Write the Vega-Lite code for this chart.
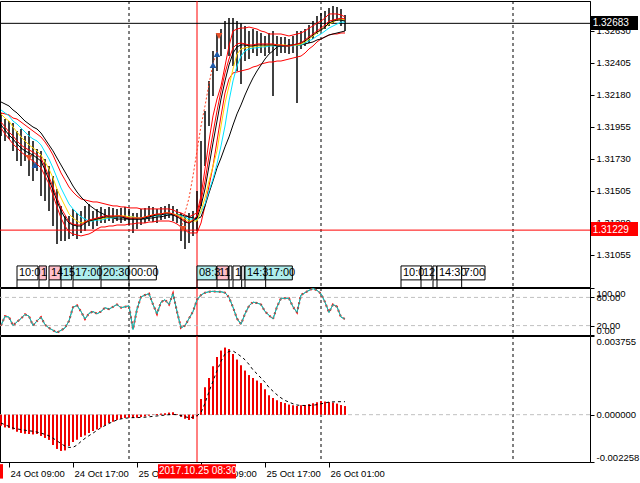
{
"$schema": "https://vega.github.io/schema/vega-lite/v6.json",
"padding": {"left": -4, "top": 0, "right": 0, "bottom": 0},
"background": "#FFFFFF",
"bounds": "flush",
"spacing": 1,
"config": {
 "view": {"stroke": "#000000", "strokeWidth": 1},
 "axis": {"labelFont": "Liberation Sans", "labelFontSize": 9.5, "labelColor": "#000000", "domainColor": "#000000", "tickColor": "#000000", "tickSize": 4, "labelPadding": 2, "grid": false},
 "text": {"font": "Liberation Sans", "fontSize": 10}
},
"datasets": {
 "bars": [
{"t":"2017-10-24T08:00Z","o":1.32010,"h":1.32053,"l":1.31891,"c":1.31982,"r":1.31989,"k":1.31968,"ye":1.32046,"cy":1.32074,"ks":1.32130,"bu":1.32053,"bl":1.31947,"rsi":20,"m":-0.00052,"s":-0.00040},
{"t":"2017-10-24T08:30Z","o":1.31982,"h":1.32010,"l":1.31856,"c":1.31940,"r":1.31954,"k":1.31933,"ye":1.32017,"cy":1.32053,"ks":1.32116,"bu":1.32046,"bl":1.31905,"rsi":40,"m":-0.00060,"s":-0.00048},
{"t":"2017-10-24T09:00Z","o":1.31940,"h":1.31996,"l":1.31870,"c":1.31954,"r":1.31919,"k":1.31898,"ye":1.31996,"cy":1.32032,"ks":1.32102,"bu":1.32039,"bl":1.31870,"rsi":38,"m":-0.00062,"s":-0.00056},
{"t":"2017-10-24T09:30Z","o":1.31954,"h":1.31982,"l":1.31786,"c":1.31891,"r":1.31891,"k":1.31870,"ye":1.31954,"cy":1.31996,"ks":1.32074,"bu":1.32017,"bl":1.31835,"rsi":20,"m":-0.00070,"s":-0.00064},
{"t":"2017-10-24T10:00Z","o":1.31891,"h":1.31926,"l":1.31715,"c":1.31856,"r":1.31856,"k":1.31835,"ye":1.31919,"cy":1.31975,"ks":1.32053,"bu":1.32010,"bl":1.31807,"rsi":28,"m":-0.00080,"s":-0.00068},
{"t":"2017-10-24T10:30Z","o":1.31856,"h":1.31940,"l":1.31680,"c":1.31870,"r":1.31828,"k":1.31807,"ye":1.31884,"cy":1.31947,"ks":1.32024,"bu":1.31989,"bl":1.31778,"rsi":35,"m":-0.00086,"s":-0.00071},
{"t":"2017-10-24T11:00Z","o":1.31870,"h":1.31891,"l":1.31715,"c":1.31800,"r":1.31807,"k":1.31786,"ye":1.31856,"cy":1.31919,"ks":1.31996,"bu":1.31968,"bl":1.31757,"rsi":44,"m":-0.00090,"s":-0.00074},
{"t":"2017-10-24T11:30Z","o":1.31800,"h":1.31926,"l":1.31610,"c":1.31821,"r":1.31793,"k":1.31771,"ye":1.31828,"cy":1.31891,"ks":1.31975,"bu":1.31947,"bl":1.31736,"rsi":40,"m":-0.00092,"s":-0.00077},
{"t":"2017-10-24T12:00Z","o":1.31821,"h":1.31856,"l":1.31575,"c":1.31771,"r":1.31778,"k":1.31757,"ye":1.31807,"cy":1.31870,"ks":1.31954,"bu":1.31926,"bl":1.31715,"rsi":20,"m":-0.00093,"s":-0.00079},
{"t":"2017-10-24T12:30Z","o":1.31771,"h":1.31800,"l":1.31645,"c":1.31729,"r":1.31757,"k":1.31736,"ye":1.31786,"cy":1.31856,"ks":1.31940,"bu":1.31905,"bl":1.31694,"rsi":30,"m":-0.00092,"s":-0.00083},
{"t":"2017-10-24T13:00Z","o":1.31729,"h":1.31786,"l":1.31469,"c":1.31680,"r":1.31736,"k":1.31715,"ye":1.31757,"cy":1.31828,"ks":1.31912,"bu":1.31884,"bl":1.31666,"rsi":38,"m":-0.00100,"s":-0.00088},
{"t":"2017-10-24T13:30Z","o":1.31680,"h":1.31729,"l":1.31434,"c":1.31645,"r":1.31673,"k":1.31652,"ye":1.31708,"cy":1.31778,"ks":1.31870,"bu":1.31849,"bl":1.31610,"rsi":22,"m":-0.00110,"s":-0.00094},
{"t":"2017-10-24T14:00Z","o":1.31645,"h":1.31680,"l":1.31364,"c":1.31561,"r":1.31603,"k":1.31582,"ye":1.31659,"cy":1.31729,"ks":1.31828,"bu":1.31807,"bl":1.31554,"rsi":15,"m":-0.00120,"s":-0.00101},
{"t":"2017-10-24T14:30Z","o":1.31561,"h":1.31610,"l":1.31258,"c":1.31469,"r":1.31532,"k":1.31511,"ye":1.31596,"cy":1.31666,"ks":1.31786,"bu":1.31757,"bl":1.31476,"rsi":10,"m":-0.00145,"s":-0.00112},
{"t":"2017-10-24T15:00Z","o":1.31469,"h":1.31518,"l":1.31132,"c":1.31329,"r":1.31455,"k":1.31434,"ye":1.31518,"cy":1.31596,"ks":1.31736,"bu":1.31694,"bl":1.31392,"rsi":5,"m":-0.00162,"s":-0.00125},
{"t":"2017-10-24T15:30Z","o":1.31329,"h":1.31399,"l":1.31153,"c":1.31237,"r":1.31385,"k":1.31364,"ye":1.31455,"cy":1.31525,"ks":1.31687,"bu":1.31631,"bl":1.31314,"rsi":10,"m":-0.00172,"s":-0.00138},
{"t":"2017-10-24T16:00Z","o":1.31237,"h":1.31329,"l":1.31153,"c":1.31209,"r":1.31336,"k":1.31314,"ye":1.31399,"cy":1.31469,"ks":1.31638,"bu":1.31582,"bl":1.31258,"rsi":15,"m":-0.00170,"s":-0.00150},
{"t":"2017-10-24T16:30Z","o":1.31209,"h":1.31329,"l":1.31167,"c":1.31258,"r":1.31286,"k":1.31279,"ye":1.31343,"cy":1.31413,"ks":1.31589,"bu":1.31532,"bl":1.31216,"rsi":30,"m":-0.00150,"s":-0.00156},
{"t":"2017-10-24T17:00Z","o":1.31258,"h":1.31378,"l":1.31188,"c":1.31279,"r":1.31272,"k":1.31265,"ye":1.31314,"cy":1.31378,"ks":1.31539,"bu":1.31497,"bl":1.31202,"rsi":59,"m":-0.00130,"s":-0.00156},
{"t":"2017-10-24T17:30Z","o":1.31279,"h":1.31350,"l":1.31167,"c":1.31251,"r":1.31265,"k":1.31258,"ye":1.31293,"cy":1.31350,"ks":1.31497,"bu":1.31469,"bl":1.31195,"rsi":63,"m":-0.00118,"s":-0.00145},
{"t":"2017-10-24T18:00Z","o":1.31251,"h":1.31364,"l":1.31209,"c":1.31293,"r":1.31265,"k":1.31258,"ye":1.31279,"cy":1.31322,"ks":1.31462,"bu":1.31448,"bl":1.31188,"rsi":50,"m":-0.00105,"s":-0.00128},
{"t":"2017-10-24T18:30Z","o":1.31293,"h":1.31399,"l":1.31223,"c":1.31307,"r":1.31286,"k":1.31279,"ye":1.31286,"cy":1.31307,"ks":1.31434,"bu":1.31441,"bl":1.31195,"rsi":34,"m":-0.00098,"s":-0.00113},
{"t":"2017-10-24T19:00Z","o":1.31307,"h":1.31413,"l":1.31258,"c":1.31329,"r":1.31300,"k":1.31293,"ye":1.31293,"cy":1.31293,"ks":1.31406,"bu":1.31434,"bl":1.31202,"rsi":46,"m":-0.00088,"s":-0.00100},
{"t":"2017-10-24T19:30Z","o":1.31329,"h":1.31364,"l":1.31237,"c":1.31293,"r":1.31307,"k":1.31300,"ye":1.31300,"cy":1.31293,"ks":1.31385,"bu":1.31427,"bl":1.31216,"rsi":50,"m":-0.00078,"s":-0.00088},
{"t":"2017-10-24T20:00Z","o":1.31293,"h":1.31378,"l":1.31258,"c":1.31322,"r":1.31314,"k":1.31307,"ye":1.31307,"cy":1.31300,"ks":1.31364,"bu":1.31427,"bl":1.31237,"rsi":45,"m":-0.00070,"s":-0.00075},
{"t":"2017-10-24T20:30Z","o":1.31322,"h":1.31392,"l":1.31279,"c":1.31336,"r":1.31322,"k":1.31314,"ye":1.31307,"cy":1.31300,"ks":1.31350,"bu":1.31420,"bl":1.31251,"rsi":50,"m":-0.00060,"s":-0.00062},
{"t":"2017-10-24T21:00Z","o":1.31336,"h":1.31378,"l":1.31279,"c":1.31329,"r":1.31329,"k":1.31322,"ye":1.31314,"cy":1.31307,"ks":1.31336,"bu":1.31413,"bl":1.31251,"rsi":58,"m":-0.00050,"s":-0.00052},
{"t":"2017-10-24T21:30Z","o":1.31329,"h":1.31392,"l":1.31293,"c":1.31343,"r":1.31329,"k":1.31322,"ye":1.31322,"cy":1.31314,"ks":1.31322,"bu":1.31406,"bl":1.31258,"rsi":55,"m":-0.00040,"s":-0.00042},
{"t":"2017-10-24T22:00Z","o":1.31343,"h":1.31385,"l":1.31279,"c":1.31322,"r":1.31329,"k":1.31322,"ye":1.31322,"cy":1.31314,"ks":1.31314,"bu":1.31399,"bl":1.31258,"rsi":60,"m":-0.00032,"s":-0.00033},
{"t":"2017-10-24T22:30Z","o":1.31322,"h":1.31378,"l":1.31293,"c":1.31336,"r":1.31329,"k":1.31322,"ye":1.31329,"cy":1.31322,"ks":1.31307,"bu":1.31399,"bl":1.31265,"rsi":65,"m":-0.00024,"s":-0.00025},
{"t":"2017-10-24T23:00Z","o":1.31336,"h":1.31385,"l":1.31279,"c":1.31329,"r":1.31329,"k":1.31322,"ye":1.31329,"cy":1.31322,"ks":1.31307,"bu":1.31392,"bl":1.31265,"rsi":58,"m":-0.00018,"s":-0.00020},
{"t":"2017-10-24T23:30Z","o":1.31329,"h":1.31392,"l":1.31293,"c":1.31343,"r":1.31322,"k":1.31314,"ye":1.31329,"cy":1.31322,"ks":1.31307,"bu":1.31392,"bl":1.31265,"rsi":60,"m":-0.00015,"s":-0.00017},
{"t":"2017-10-25T00:00Z","o":1.31343,"h":1.31378,"l":1.31265,"c":1.31314,"r":1.31314,"k":1.31307,"ye":1.31322,"cy":1.31322,"ks":1.31307,"bu":1.31385,"bl":1.31272,"rsi":62,"m":-0.00014,"s":-0.00015},
{"t":"2017-10-25T00:30Z","o":1.31314,"h":1.31350,"l":1.31209,"c":1.31279,"r":1.31314,"k":1.31307,"ye":1.31322,"cy":1.31322,"ks":1.31307,"bu":1.31385,"bl":1.31272,"rsi":12,"m":-0.00016,"s":-0.00014},
{"t":"2017-10-25T01:00Z","o":1.31279,"h":1.31350,"l":1.31237,"c":1.31307,"r":1.31314,"k":1.31307,"ye":1.31314,"cy":1.31314,"ks":1.31307,"bu":1.31385,"bl":1.31279,"rsi":55,"m":-0.00014,"s":-0.00014},
{"t":"2017-10-25T01:30Z","o":1.31307,"h":1.31378,"l":1.31265,"c":1.31322,"r":1.31314,"k":1.31307,"ye":1.31314,"cy":1.31314,"ks":1.31307,"bu":1.31378,"bl":1.31279,"rsi":81,"m":-0.00011,"s":-0.00013},
{"t":"2017-10-25T02:00Z","o":1.31322,"h":1.31385,"l":1.31279,"c":1.31336,"r":1.31322,"k":1.31314,"ye":1.31322,"cy":1.31314,"ks":1.31307,"bu":1.31378,"bl":1.31279,"rsi":85,"m":-0.00008,"s":-0.00012},
{"t":"2017-10-25T02:30Z","o":1.31336,"h":1.31399,"l":1.31293,"c":1.31343,"r":1.31329,"k":1.31322,"ye":1.31329,"cy":1.31322,"ks":1.31314,"bu":1.31378,"bl":1.31286,"rsi":88,"m":-0.00004,"s":-0.00010},
{"t":"2017-10-25T03:00Z","o":1.31343,"h":1.31392,"l":1.31286,"c":1.31336,"r":1.31336,"k":1.31329,"ye":1.31336,"cy":1.31329,"ks":1.31314,"bu":1.31378,"bl":1.31286,"rsi":65,"m":-0.00002,"s":-0.00008},
{"t":"2017-10-25T03:30Z","o":1.31336,"h":1.31378,"l":1.31279,"c":1.31329,"r":1.31343,"k":1.31336,"ye":1.31336,"cy":1.31329,"ks":1.31322,"bu":1.31378,"bl":1.31293,"rsi":45,"m":0.00003,"s":-0.00006},
{"t":"2017-10-25T04:00Z","o":1.31329,"h":1.31392,"l":1.31300,"c":1.31350,"r":1.31343,"k":1.31336,"ye":1.31343,"cy":1.31336,"ks":1.31322,"bu":1.31378,"bl":1.31293,"rsi":70,"m":0.00005,"s":-0.00004},
{"t":"2017-10-25T04:30Z","o":1.31350,"h":1.31399,"l":1.31307,"c":1.31357,"r":1.31350,"k":1.31343,"ye":1.31350,"cy":1.31343,"ks":1.31329,"bu":1.31378,"bl":1.31293,"rsi":75,"m":0.00006,"s":-0.00002},
{"t":"2017-10-25T05:00Z","o":1.31357,"h":1.31413,"l":1.31314,"c":1.31364,"r":1.31350,"k":1.31343,"ye":1.31350,"cy":1.31343,"ks":1.31336,"bu":1.31378,"bl":1.31293,"rsi":65,"m":0.00009,"s":0.00000},
{"t":"2017-10-25T05:30Z","o":1.31364,"h":1.31399,"l":1.31293,"c":1.31343,"r":1.31343,"k":1.31336,"ye":1.31343,"cy":1.31343,"ks":1.31336,"bu":1.31371,"bl":1.31286,"rsi":88,"m":0.00011,"s":0.00001},
{"t":"2017-10-25T06:00Z","o":1.31343,"h":1.31378,"l":1.31279,"c":1.31329,"r":1.31329,"k":1.31322,"ye":1.31336,"cy":1.31336,"ks":1.31336,"bu":1.31357,"bl":1.31272,"rsi":50,"m":0.00002,"s":0.00000},
{"t":"2017-10-25T06:30Z","o":1.31329,"h":1.31350,"l":1.31153,"c":1.31279,"r":1.31314,"k":1.31307,"ye":1.31322,"cy":1.31329,"ks":1.31336,"bu":1.31350,"bl":1.31251,"rsi":15,"m":-0.00010,"s":-0.00004,"sar":1.31237},
{"t":"2017-10-25T07:00Z","o":1.31279,"h":1.31329,"l":1.31097,"c":1.31237,"r":1.31293,"k":1.31286,"ye":1.31307,"cy":1.31322,"ks":1.31329,"bu":1.31336,"bl":1.31230,"rsi":20,"m":-0.00018,"s":-0.00010,"sar":1.31350},
{"t":"2017-10-25T07:30Z","o":1.31237,"h":1.31350,"l":1.31139,"c":1.31258,"r":1.31279,"k":1.31279,"ye":1.31293,"cy":1.31307,"ks":1.31322,"bu":1.31322,"bl":1.31209,"rsi":35,"m":-0.00024,"s":-0.00014,"sar":1.31455},
{"t":"2017-10-25T08:00Z","o":1.31258,"h":1.31364,"l":1.31188,"c":1.31279,"r":1.31300,"k":1.31293,"ye":1.31293,"cy":1.31307,"ks":1.31314,"bu":1.31336,"bl":1.31209,"rsi":50,"m":-0.00020,"s":-0.00012,"sar":1.31610},
{"t":"2017-10-25T08:30Z","o":1.31279,"h":1.31504,"l":1.31223,"c":1.31434,"r":1.31329,"k":1.31314,"ye":1.31293,"cy":1.31300,"ks":1.31307,"bu":1.31350,"bl":1.31209,"rsi":75,"m":-0.00008,"s":-0.00005,"sar":1.31786},
{"t":"2017-10-25T09:00Z","o":1.31434,"h":1.31856,"l":1.31399,"c":1.31715,"r":1.31434,"k":1.31399,"ye":1.31364,"cy":1.31357,"ks":1.31322,"bu":1.31469,"bl":1.31279,"rsi":85,"m":0.00075,"s":0.00010,"sar":1.31961},
{"t":"2017-10-25T09:30Z","o":1.31715,"h":1.32067,"l":1.31680,"c":1.31996,"r":1.31575,"k":1.31518,"ye":1.31455,"cy":1.31413,"ks":1.31399,"bu":1.31659,"bl":1.31399,"rsi":90,"m":0.00130,"s":0.00055,"sar":1.32102},
{"t":"2017-10-25T10:00Z","o":1.31996,"h":1.32278,"l":1.31961,"c":1.32207,"r":1.31750,"k":1.31680,"ye":1.31575,"cy":1.31504,"ks":1.31490,"bu":1.31856,"bl":1.31539,"rsi":92,"m":0.00175,"s":0.00110,"sar":1.32257},
{"t":"2017-10-25T10:30Z","o":1.32207,"h":1.32489,"l":1.32172,"c":1.32418,"r":1.31912,"k":1.31842,"ye":1.31680,"cy":1.31589,"ks":1.31575,"bu":1.32032,"bl":1.31680,"rsi":93,"m":0.00230,"s":0.00160,"sar":1.32397},
{"t":"2017-10-25T11:00Z","o":1.32418,"h":1.32608,"l":1.32348,"c":1.32524,"r":1.32067,"k":1.31996,"ye":1.31786,"cy":1.31694,"ks":1.31666,"bu":1.32151,"bl":1.31856,"rsi":92,"m":0.00275,"s":0.00210,"sar":1.32489},
{"t":"2017-10-25T11:30Z","o":1.32524,"h":1.32643,"l":1.32453,"c":1.32573,"r":1.32207,"k":1.32151,"ye":1.31961,"cy":1.31821,"ks":1.31736,"bu":1.32242,"bl":1.32032,"rsi":92,"m":0.00305,"s":0.00255},
{"t":"2017-10-25T12:00Z","o":1.32573,"h":1.32699,"l":1.32503,"c":1.32594,"r":1.32334,"k":1.32278,"ye":1.32123,"cy":1.31961,"ks":1.31814,"bu":1.32383,"bl":1.32193,"rsi":90,"m":0.00320,"s":0.00290},
{"t":"2017-10-25T12:30Z","o":1.32594,"h":1.32720,"l":1.32453,"c":1.32559,"r":1.32432,"k":1.32390,"ye":1.32242,"cy":1.32137,"ks":1.31884,"bu":1.32524,"bl":1.32292,"rsi":80,"m":0.00312,"s":0.00302},
{"t":"2017-10-25T13:00Z","o":1.32559,"h":1.32720,"l":1.32383,"c":1.32629,"r":1.32510,"k":1.32474,"ye":1.32362,"cy":1.32278,"ks":1.31968,"bu":1.32629,"bl":1.32334,"rsi":59,"m":0.00290,"s":0.00304},
{"t":"2017-10-25T13:30Z","o":1.32629,"h":1.32699,"l":1.32348,"c":1.32524,"r":1.32538,"k":1.32517,"ye":1.32467,"cy":1.32383,"ks":1.32046,"bu":1.32643,"bl":1.32341,"rsi":35,"m":0.00262,"s":0.00292},
{"t":"2017-10-25T14:00Z","o":1.32524,"h":1.32685,"l":1.32257,"c":1.32559,"r":1.32545,"k":1.32531,"ye":1.32503,"cy":1.32453,"ks":1.32109,"bu":1.32650,"bl":1.32348,"rsi":23,"m":0.00235,"s":0.00278},
{"t":"2017-10-25T14:30Z","o":1.32559,"h":1.32664,"l":1.32418,"c":1.32489,"r":1.32538,"k":1.32531,"ye":1.32510,"cy":1.32489,"ks":1.32179,"bu":1.32650,"bl":1.32355,"rsi":45,"m":0.00210,"s":0.00262},
{"t":"2017-10-25T15:00Z","o":1.32489,"h":1.32629,"l":1.32432,"c":1.32545,"r":1.32531,"k":1.32524,"ye":1.32517,"cy":1.32503,"ks":1.32242,"bu":1.32657,"bl":1.32362,"rsi":62,"m":0.00188,"s":0.00240},
{"t":"2017-10-25T15:30Z","o":1.32545,"h":1.32643,"l":1.32474,"c":1.32559,"r":1.32531,"k":1.32524,"ye":1.32517,"cy":1.32510,"ks":1.32299,"bu":1.32650,"bl":1.32376,"rsi":70,"m":0.00175,"s":0.00214},
{"t":"2017-10-25T16:00Z","o":1.32559,"h":1.32629,"l":1.32453,"c":1.32524,"r":1.32538,"k":1.32531,"ye":1.32524,"cy":1.32510,"ks":1.32348,"bu":1.32643,"bl":1.32383,"rsi":68,"m":0.00162,"s":0.00195},
{"t":"2017-10-25T16:30Z","o":1.32524,"h":1.32615,"l":1.32474,"c":1.32545,"r":1.32538,"k":1.32531,"ye":1.32524,"cy":1.32517,"ks":1.32390,"bu":1.32629,"bl":1.32397,"rsi":65,"m":0.00150,"s":0.00175},
{"t":"2017-10-25T17:00Z","o":1.32545,"h":1.32594,"l":1.32453,"c":1.32517,"r":1.32538,"k":1.32531,"ye":1.32524,"cy":1.32517,"ks":1.32432,"bu":1.32622,"bl":1.32404,"rsi":50,"m":0.00120,"s":0.00155},
{"t":"2017-10-25T17:30Z","o":1.32517,"h":1.32615,"l":1.32474,"c":1.32559,"r":1.32538,"k":1.32531,"ye":1.32531,"cy":1.32524,"ks":1.32467,"bu":1.32608,"bl":1.32411,"rsi":42,"m":0.00092,"s":0.00130},
{"t":"2017-10-25T18:00Z","o":1.32559,"h":1.32629,"l":1.32172,"c":1.32531,"r":1.32538,"k":1.32531,"ye":1.32531,"cy":1.32524,"ks":1.32489,"bu":1.32608,"bl":1.32411,"rsi":34,"m":0.00080,"s":0.00112},
{"t":"2017-10-25T18:30Z","o":1.32531,"h":1.32594,"l":1.32453,"c":1.32524,"r":1.32531,"k":1.32524,"ye":1.32531,"cy":1.32524,"ks":1.32517,"bu":1.32608,"bl":1.32418,"rsi":60,"m":0.00068,"s":0.00095},
{"t":"2017-10-25T19:00Z","o":1.32524,"h":1.32587,"l":1.32474,"c":1.32517,"r":1.32531,"k":1.32524,"ye":1.32531,"cy":1.32524,"ks":1.32524,"bu":1.32608,"bl":1.32418,"rsi":78,"m":0.00060,"s":0.00080},
{"t":"2017-10-25T19:30Z","o":1.32517,"h":1.32587,"l":1.32474,"c":1.32531,"r":1.32524,"k":1.32524,"ye":1.32531,"cy":1.32524,"ks":1.32524,"bu":1.32601,"bl":1.32425,"rsi":78,"m":0.00054,"s":0.00068},
{"t":"2017-10-25T20:00Z","o":1.32531,"h":1.32573,"l":1.32467,"c":1.32510,"r":1.32524,"k":1.32524,"ye":1.32524,"cy":1.32524,"ks":1.32531,"bu":1.32594,"bl":1.32432,"rsi":78,"m":0.00048,"s":0.00060},
{"t":"2017-10-25T20:30Z","o":1.32510,"h":1.32594,"l":1.32474,"c":1.32538,"r":1.32531,"k":1.32531,"ye":1.32531,"cy":1.32524,"ks":1.32531,"bu":1.32601,"bl":1.32439,"rsi":60,"m":0.00044,"s":0.00052},
{"t":"2017-10-25T21:00Z","o":1.32538,"h":1.32629,"l":1.32123,"c":1.32531,"r":1.32538,"k":1.32538,"ye":1.32531,"cy":1.32531,"ks":1.32531,"bu":1.32608,"bl":1.32446,"rsi":48,"m":0.00042,"s":0.00046},
{"t":"2017-10-25T21:30Z","o":1.32531,"h":1.32629,"l":1.32503,"c":1.32559,"r":1.32545,"k":1.32545,"ye":1.32538,"cy":1.32531,"ks":1.32531,"bu":1.32615,"bl":1.32453,"rsi":85,"m":0.00044,"s":0.00044},
{"t":"2017-10-25T22:00Z","o":1.32559,"h":1.32643,"l":1.32524,"c":1.32587,"r":1.32566,"k":1.32559,"ye":1.32552,"cy":1.32545,"ks":1.32538,"bu":1.32629,"bl":1.32474,"rsi":90,"m":0.00046,"s":0.00044},
{"t":"2017-10-25T22:30Z","o":1.32587,"h":1.32671,"l":1.32545,"c":1.32608,"r":1.32587,"k":1.32580,"ye":1.32573,"cy":1.32559,"ks":1.32545,"bu":1.32650,"bl":1.32503,"rsi":95,"m":0.00050,"s":0.00044},
{"t":"2017-10-25T23:00Z","o":1.32608,"h":1.32699,"l":1.32573,"c":1.32643,"r":1.32608,"k":1.32601,"ye":1.32594,"cy":1.32573,"ks":1.32552,"bu":1.32664,"bl":1.32524,"rsi":99,"m":0.00053,"s":0.00045},
{"t":"2017-10-25T23:30Z","o":1.32643,"h":1.32735,"l":1.32608,"c":1.32671,"r":1.32629,"k":1.32622,"ye":1.32615,"cy":1.32594,"ks":1.32566,"bu":1.32685,"bl":1.32552,"rsi":95,"m":0.00058,"s":0.00048},
{"t":"2017-10-26T00:00Z","o":1.32671,"h":1.32756,"l":1.32629,"c":1.32699,"r":1.32650,"k":1.32636,"ye":1.32636,"cy":1.32608,"ks":1.32573,"bu":1.32699,"bl":1.32573,"rsi":88,"m":0.00064,"s":0.00052},
{"t":"2017-10-26T00:30Z","o":1.32699,"h":1.32770,"l":1.32643,"c":1.32713,"r":1.32671,"k":1.32657,"ye":1.32657,"cy":1.32629,"ks":1.32587,"bu":1.32720,"bl":1.32587,"rsi":70,"m":0.00062,"s":0.00056},
{"t":"2017-10-26T01:00Z","o":1.32713,"h":1.32791,"l":1.32664,"c":1.32735,"r":1.32699,"k":1.32685,"ye":1.32678,"cy":1.32650,"ks":1.32601,"bu":1.32749,"bl":1.32601,"rsi":48,"m":0.00060,"s":0.00060},
{"t":"2017-10-26T01:30Z","o":1.32735,"h":1.32805,"l":1.32685,"c":1.32756,"r":1.32706,"k":1.32699,"ye":1.32692,"cy":1.32664,"ks":1.32608,"bu":1.32749,"bl":1.32608,"rsi":65,"m":0.00057,"s":0.00061},
{"t":"2017-10-26T02:00Z","o":1.32756,"h":1.32798,"l":1.32699,"c":1.32770,"r":1.32713,"k":1.32706,"ye":1.32706,"cy":1.32678,"ks":1.32615,"bu":1.32749,"bl":1.32608,"rsi":60,"m":0.00052,"s":0.00062},
{"t":"2017-10-26T02:30Z","o":1.32770,"h":1.32784,"l":1.32664,"c":1.32713,"r":1.32720,"k":1.32706,"ye":1.32713,"cy":1.32692,"ks":1.32622,"bu":1.32742,"bl":1.32615,"rsi":38,"m":0.00045,"s":0.00062},
{"t":"2017-10-26T03:00Z","o":1.32713,"h":1.32742,"l":1.32629,"c":1.32683,"r":1.32713,"k":1.32699,"ye":1.32706,"cy":1.32692,"ks":1.32629,"bu":1.32728,"bl":1.32615,"rsi":34,"m":0.00040,"s":0.00062}
 ],
 "days": [{"t":"2017-10-25T00:00Z"},{"t":"2017-10-26T00:00Z"},{"t":"2017-10-27T00:00Z"}],
 "news": [{"t":"2017-10-25T08:30Z"}],
 "levels": [{"p":1.32683,"kind":"bid"},{"p":1.31229,"kind":"alert"}],
 "arrows": [
  {"t":"2017-10-24T11:30Z","p":1.31736,"d":"sell"},
  {"t":"2017-10-24T12:15Z","p":1.31687,"d":"buy"},
  {"t":"2017-10-25T06:45Z","p":1.31237,"d":"sell"},
  {"t":"2017-10-25T10:30Z","p":1.32390,"d":"buy"},
  {"t":"2017-10-25T11:00Z","p":1.32467,"d":"buy"},
  {"t":"2017-10-25T11:15Z","p":1.32594,"d":"sell"}
 ],
 "events": [
  {"t":"2017-10-24T10:00Z","t2":"2017-10-24T12:37Z","lab":"10:0","cat":"low"},
  {"t":"2017-10-24T12:45Z","t2":"2017-10-24T13:40Z","lab":"1","cat":"high"},
  {"t":"2017-10-24T14:00Z","t2":"2017-10-24T15:25Z","lab":"14","cat":"high"},
  {"t":"2017-10-24T15:30Z","t2":"2017-10-24T16:50Z","lab":"15","cat":"mid"},
  {"t":"2017-10-24T17:00Z","t2":"2017-10-24T20:22Z","lab":"17:00","cat":"mid"},
  {"t":"2017-10-24T20:30Z","t2":"2017-10-24T23:55Z","lab":"20:30","cat":"mid"},
  {"t":"2017-10-25T00:00Z","t2":"2017-10-25T03:25Z","lab":"00:00","cat":"low"},
  {"t":"2017-10-25T08:30Z","t2":"2017-10-25T10:55Z","lab":"08:3","cat":"mid"},
  {"t":"2017-10-25T11:00Z","t2":"2017-10-25T12:25Z","lab":"11","cat":"high"},
  {"t":"2017-10-25T12:30Z","t2":"2017-10-25T12:52Z","lab":"","cat":"low"},
  {"t":"2017-10-25T13:00Z","t2":"2017-10-25T13:55Z","lab":"1","cat":"low"},
  {"t":"2017-10-25T14:05Z","t2":"2017-10-25T14:25Z","lab":"","cat":"low"},
  {"t":"2017-10-25T14:30Z","t2":"2017-10-25T17:00Z","lab":"14:3","cat":"mid"},
  {"t":"2017-10-25T17:05Z","t2":"2017-10-25T20:25Z","lab":"17:00","cat":"mid"},
  {"t":"2017-10-26T10:00Z","t2":"2017-10-26T12:27Z","lab":"10:0","cat":"low"},
  {"t":"2017-10-26T12:30Z","t2":"2017-10-26T13:52Z","lab":"12","cat":"low"},
  {"t":"2017-10-26T14:00Z","t2":"2017-10-26T14:27Z","lab":"","cat":"low"},
  {"t":"2017-10-26T14:30Z","t2":"2017-10-26T17:35Z","lab":"14:30","cat":"low"},
  {"t":"2017-10-26T17:35Z","t2":"2017-10-26T20:30Z","lab":"7:00","cat":"low"}
 ],
 "rsilev": [{"v":80},{"v":20}],
 "stamp": [{"lab":"2017.10.25 08:30"}]
},
"vconcat": [
 {
  "width": 590, "height": 286,
  "resolve": {"axis": {"x": "independent", "y": "independent"}},
  "layer": [
   {"data": {"name": "days"}, "mark": {"type": "rule", "color": "#000000", "strokeDash": [3, 3], "strokeWidth": 1},
    "encoding": {"x": {"field": "t", "type": "temporal", "scale": {"type": "utc", "domain": [1508831550000, 1509097050000]}, "axis": null}}},
   {"data": {"name": "news"}, "mark": {"type": "rule", "color": "#FF0000", "strokeWidth": 1},
    "encoding": {"x": {"field": "t", "type": "temporal", "axis": null}}},
   {"data": {"name": "bars"}, "mark": {"type": "rule", "color": "#000000", "strokeWidth": 1.5},
    "encoding": {"x": {"field": "t", "type": "temporal", "axis": null},
     "y": {"field": "l", "type": "quantitative", "scale": {"domain": [1.30829, 1.3284], "nice": false, "zero": false},
      "axis": {"orient": "right", "title": null, "values": [1.31055, 1.3128, 1.31505, 1.3173, 1.31955, 1.3218, 1.32405, 1.3263], "format": ".5f", "labelOverlap": false, "labelFlush": false}},
     "y2": {"field": "h"}}},
   {"data": {"values": [{}]}, "mark": {"type": "rule", "color": "#000000", "strokeWidth": 1},
    "encoding": {"y": {"datum": 1.32683, "axis": null}}},
   {"data": {"values": [{}]}, "mark": {"type": "rule", "color": "#FF0000", "strokeWidth": 1},
    "encoding": {"y": {"datum": 1.31229, "axis": null}}},
   {"data": {"name": "bars"}, "mark": {"type": "line", "color": "#FF0000", "strokeWidth": 1},
    "encoding": {"x": {"field": "t", "type": "temporal", "axis": null}, "y": {"field": "bu", "type": "quantitative", "axis": null}}},
   {"data": {"name": "bars"}, "mark": {"type": "line", "color": "#FF0000", "strokeWidth": 1},
    "encoding": {"x": {"field": "t", "type": "temporal", "axis": null}, "y": {"field": "bl", "type": "quantitative", "axis": null}}},
   {"data": {"name": "bars"}, "mark": {"type": "line", "color": "#000000", "strokeWidth": 1},
    "encoding": {"x": {"field": "t", "type": "temporal", "axis": null}, "y": {"field": "ks", "type": "quantitative", "axis": null}}},
   {"data": {"name": "bars"}, "mark": {"type": "line", "color": "#00E5FF", "strokeWidth": 1},
    "encoding": {"x": {"field": "t", "type": "temporal", "axis": null}, "y": {"field": "cy", "type": "quantitative", "axis": null}}},
   {"data": {"name": "bars"}, "mark": {"type": "line", "color": "#FFD700", "strokeWidth": 1},
    "encoding": {"x": {"field": "t", "type": "temporal", "axis": null}, "y": {"field": "ye", "type": "quantitative", "axis": null}}},
   {"data": {"name": "bars"}, "mark": {"type": "line", "color": "#000000", "strokeWidth": 1},
    "encoding": {"x": {"field": "t", "type": "temporal", "axis": null}, "y": {"field": "k", "type": "quantitative", "axis": null}}},
   {"data": {"name": "bars"}, "mark": {"type": "line", "color": "#FF0000", "strokeWidth": 1},
    "encoding": {"x": {"field": "t", "type": "temporal", "axis": null}, "y": {"field": "r", "type": "quantitative", "axis": null}}},
   {"data": {"name": "bars"}, "mark": {"type": "line", "color": "#FF4020", "strokeWidth": 1, "strokeDash": [2, 2]},
    "encoding": {"x": {"field": "t", "type": "temporal", "axis": null}, "y": {"field": "sar", "type": "quantitative", "axis": null}}},
   {"data": {"name": "arrows"}, "mark": {"type": "point", "filled": true, "size": 45, "opacity": 1},
    "encoding": {"x": {"field": "t", "type": "temporal", "axis": null}, "y": {"field": "p", "type": "quantitative", "axis": null},
     "shape": {"field": "d", "type": "nominal", "scale": {"domain": ["buy", "sell"], "range": ["triangle-up", "triangle-down"]}, "legend": null},
     "color": {"field": "d", "type": "nominal", "scale": {"domain": ["buy", "sell"], "range": ["#1E5AA8", "#E8502A"]}, "legend": null}}},
   {"data": {"name": "events"}, "mark": {"type": "rule", "color": "#000000", "strokeWidth": 1},
    "encoding": {"x": {"field": "t", "type": "temporal", "axis": null}, "y": {"datum": 1.30879, "axis": null}, "y2": {"datum": 1.30829}}},
   {"data": {"name": "events"}, "mark": {"type": "rect", "stroke": "#000000", "strokeWidth": 1},
    "encoding": {"x": {"field": "t", "type": "temporal", "axis": null}, "x2": {"field": "t2"}, "y": {"datum": 1.30977, "axis": null}, "y2": {"datum": 1.30879},
     "fill": {"field": "cat", "type": "nominal", "scale": {"domain": ["high", "mid", "low"], "range": ["#FFC0CB", "#AFEEEE", "#FFFFFF"]}, "legend": null}}},
   {"data": {"name": "events"}, "mark": {"type": "text", "align": "left", "baseline": "middle", "dx": 2, "color": "#000000", "fontSize": 11},
    "encoding": {"x": {"field": "t", "type": "temporal", "axis": null}, "y": {"datum": 1.30928, "axis": null}, "text": {"field": "lab"}}},
   {"data": {"values": [{}]}, "mark": {"type": "rect", "color": "#000000"},
    "encoding": {"x": {"datum": 1509097500000, "type": "temporal", "axis": null}, "x2": {"datum": 1509118650000}, "y": {"datum": 1.32735, "axis": null}, "y2": {"datum": 1.32636}}},
   {"data": {"values": [{}]}, "mark": {"type": "rect", "color": "#FF0000"},
    "encoding": {"x": {"datum": 1509097500000, "type": "temporal", "axis": null}, "x2": {"datum": 1509118650000}, "y": {"datum": 1.31286, "axis": null}, "y2": {"datum": 1.31188}}},
   {"data": {"name": "levels"}, "mark": {"type": "text", "align": "left", "baseline": "middle", "color": "#FFFFFF", "fontSize": 10, "dx": 1},
    "encoding": {"x": {"datum": 1509097800000, "type": "temporal", "axis": null}, "y": {"field": "p", "type": "quantitative", "axis": null}, "text": {"field": "p", "type": "quantitative", "format": ".5f"}}}
  ]
 },
 {
  "width": 590, "height": 47,
  "resolve": {"axis": {"x": "independent", "y": "independent"}},
  "layer": [
   {"data": {"name": "days"}, "mark": {"type": "rule", "color": "#000000", "strokeDash": [3, 3], "strokeWidth": 1},
    "encoding": {"x": {"field": "t", "type": "temporal", "scale": {"type": "utc", "domain": [1508831550000, 1509097050000]}, "axis": null}}},
   {"data": {"name": "news"}, "mark": {"type": "rule", "color": "#FF0000", "strokeWidth": 1},
    "encoding": {"x": {"field": "t", "type": "temporal", "axis": null}}},
   {"data": {"name": "bars"}, "mark": {"type": "line", "color": "#20B2AA", "strokeWidth": 1},
    "encoding": {"x": {"field": "t", "type": "temporal", "axis": null},
     "y": {"field": "rsi", "type": "quantitative", "scale": {"domain": [0, 100], "nice": false},
      "axis": {"orient": "right", "title": null, "values": [0, 20, 80, 100], "format": ".2f", "labelOverlap": false, "labelFlush": true}}}},
   {"data": {"name": "rsilev"}, "mark": {"type": "rule", "color": "#C0C0C0", "strokeDash": [4, 3], "strokeWidth": 1},
    "encoding": {"y": {"field": "v", "type": "quantitative", "axis": null}}},
   {"data": {"name": "bars"}, "mark": {"type": "line", "color": "#FF0000", "strokeWidth": 2, "strokeDash": [2, 3]},
    "encoding": {"x": {"field": "t", "type": "temporal", "axis": null}, "y": {"field": "rsi", "type": "quantitative", "axis": null}}},
   {"data": {"name": "bars"}, "mark": {"type": "line", "color": "#20B2AA", "strokeWidth": 1},
    "encoding": {"x": {"field": "t", "type": "temporal", "axis": null}, "y": {"field": "rsi", "type": "quantitative", "axis": null}}}
  ]
 },
 {
  "width": 590, "height": 126,
  "resolve": {"axis": {"x": "independent", "y": "independent"}},
  "layer": [
   {"data": {"name": "bars"}, "mark": {"type": "rule", "color": "#F00000", "strokeWidth": 2},
    "encoding": {"x": {"field": "t", "type": "temporal", "scale": {"type": "utc", "domain": [1508831550000, 1509097050000]},
      "axis": {"orient": "bottom", "title": null, "values": [1508835600000, 1508864400000, 1508893200000, 1508922000000, 1508950800000, 1508979600000], "labelExpr": "utcFormat(datum.value, '%d %b %H:%M')", "labelAlign": "left", "labelBaseline": "top", "labelOffset": 1, "labelPadding": 1, "tickSize": 5, "domain": false, "labelFlush": false, "labelOverlap": false}},
     "y": {"field": "m", "type": "quantitative", "scale": {"domain": [-0.002258, 0.003755], "nice": false, "zero": false},
      "axis": {"orient": "right", "title": null, "values": [-0.002258, 0, 0.003755], "labelExpr": "datum.value < 0 ? '-' + format(-datum.value, '.6f') : format(datum.value, '.6f')", "labelOverlap": false, "labelFlush": true}},
     "y2": {"datum": 0}}},
   {"data": {"name": "days"}, "mark": {"type": "rule", "color": "#000000", "strokeDash": [3, 3], "strokeWidth": 1},
    "encoding": {"x": {"field": "t", "type": "temporal", "axis": null}}},
   {"data": {"name": "news"}, "mark": {"type": "rule", "color": "#FF0000", "strokeWidth": 1},
    "encoding": {"x": {"field": "t", "type": "temporal", "axis": null}}},
   {"data": {"values": [{}]}, "mark": {"type": "rule", "color": "#C0C0C0", "strokeDash": [4, 3], "strokeWidth": 1},
    "encoding": {"y": {"datum": 0, "axis": null}}},
   {"data": {"name": "bars"}, "mark": {"type": "rule", "color": "#F00000", "strokeWidth": 2},
    "encoding": {"x": {"field": "t", "type": "temporal", "axis": null}, "y": {"field": "m", "type": "quantitative", "axis": null}, "y2": {"datum": 0}}},
   {"data": {"name": "bars"}, "mark": {"type": "line", "color": "#000000", "strokeWidth": 1, "strokeDash": [3, 3]},
    "encoding": {"x": {"field": "t", "type": "temporal", "axis": null}, "y": {"field": "s", "type": "quantitative", "axis": null}}},
   {"data": {"values": [{}]}, "mark": {"type": "rect", "color": "#FF0000"},
    "encoding": {"x": {"datum": 1508831550000, "type": "temporal", "axis": null}, "x2": {"datum": 1508832900000}, "y": {"datum": -0.00236, "axis": null}, "y2": {"datum": -0.00305}}},
   {"data": {"name": "stamp"}, "mark": {"type": "rect", "color": "#FF0000"},
    "encoding": {"x": {"datum": 1508902650000, "type": "temporal", "axis": null}, "x2": {"datum": 1508937750000}, "y": {"datum": -0.00236, "axis": null}, "y2": {"datum": -0.00305}}},
   {"data": {"name": "stamp"}, "mark": {"type": "text", "align": "left", "baseline": "middle", "color": "#FFFFFF", "fontSize": 10, "dx": 1},
    "encoding": {"x": {"datum": 1508902650000, "type": "temporal", "axis": null}, "y": {"datum": -0.002705, "axis": null}, "text": {"field": "lab"}}}
  ]
 }
]
}
